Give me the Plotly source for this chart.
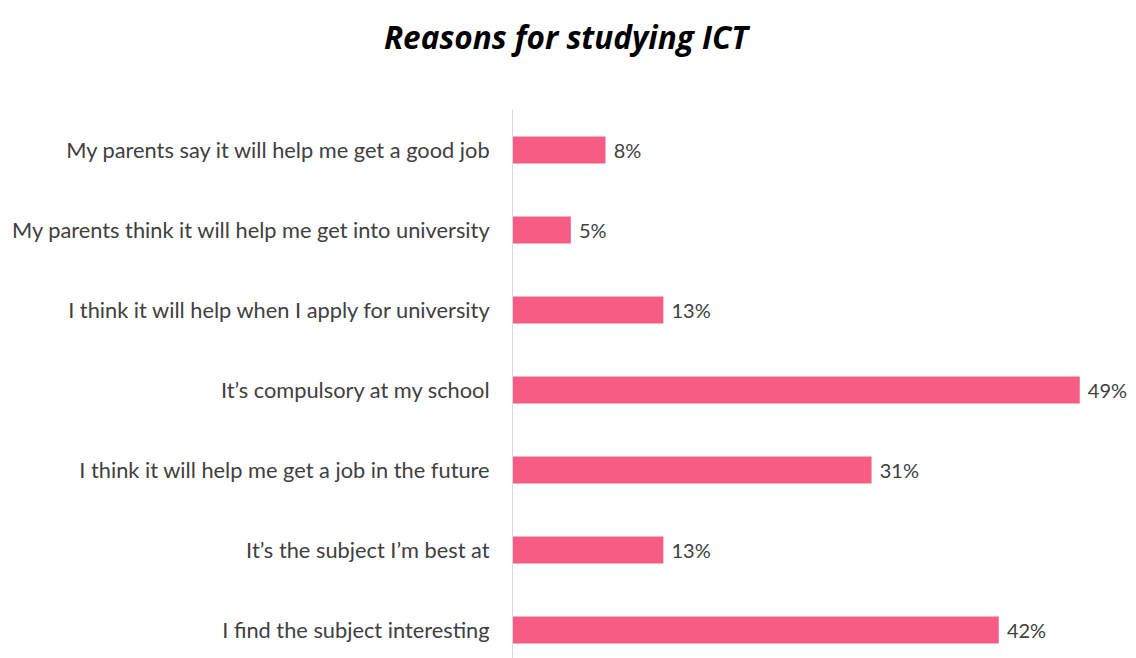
import plotly.graph_objects as go

# Survey reasons, listed bottom-to-top as they appear on the axis
reasons = [
    "I find the subject interesting",
    "It\u2019s the subject I\u2019m best at",
    "I think it will help me get a job in the future",
    "It\u2019s compulsory at my school",
    "I think it will help when I apply for university",
    "My parents think it will help me get into university",
    "My parents say it will help me get a good job",
]
percentages = [42, 13, 31, 49, 13, 5, 8]

BAR_COLOR = "#F75D84"
TEXT_COLOR = "#404040"
FONT = "Lato"

fig = go.Figure(
    go.Bar(
        x=percentages,
        y=reasons,
        orientation="h",
        marker=dict(color=BAR_COLOR, line=dict(width=0)),
        width=0.34,
        text=[f" {v}%" for v in percentages],
        textposition="outside",
        textfont=dict(family=FONT, size=20, color=TEXT_COLOR),
        cliponaxis=False,
        hoverinfo="skip",
    )
)

fig.update_layout(
    width=1136,
    height=658,
    paper_bgcolor="white",
    plot_bgcolor="white",
    margin=dict(l=513, r=10, t=110, b=0),
    showlegend=False,
    title=dict(
        text="<b><i>Reasons for studying ICT</i></b>",
        x=566 / 1136,
        xanchor="center",
        y=1 - 38 / 658,
        yanchor="middle",
        font=dict(family="Open Sans", size=31.5, color="#000000"),
    ),
    xaxis=dict(
        range=[0, 53],
        visible=False,
        fixedrange=True,
    ),
    yaxis=dict(
        type="category",
        categoryorder="array",
        categoryarray=reasons,
        range=[-0.35, 6.5],
        showline=True,
        linecolor="#D9D9D9",
        linewidth=1,
        showgrid=False,
        ticks="",
        ticklabelstandoff=18,
        tickfont=dict(family=FONT, size=21.8, color=TEXT_COLOR),
        fixedrange=True,
    ),
)

fig.write_html("out.html")
